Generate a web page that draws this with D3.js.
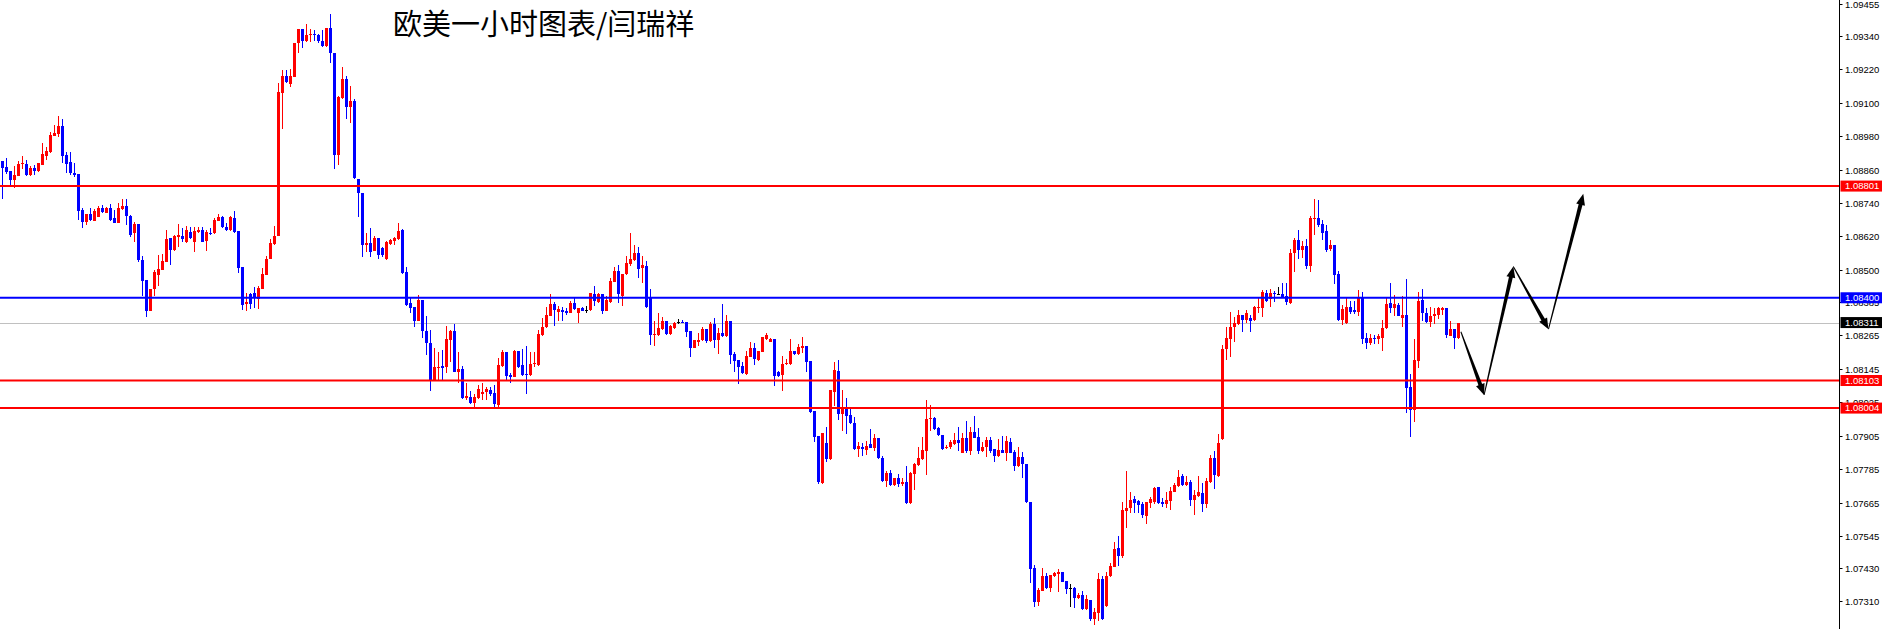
<!DOCTYPE html>
<html><head><meta charset="utf-8">
<script src="https://cdn.jsdelivr.net/npm/d3@7"></script>
<style>html,body{margin:0;padding:0;background:#fff;overflow:hidden}</style>
</head><body>
<svg id="chart" width="1882" height="629"></svg>
<script>
const title = "欧美一小时图表/闫瑞祥";
// EURUSD hourly candles, prices in points (price × 100000): [open, high, low, close]
const candles = [
[108891,108891,108755,108866],[108869,108902,108844,108852],[108855,108855,108805,108823],[108823,108873,108794,108841],
[108838,108891,108837,108880],[108879,108909,108862,108885],[108880,108895,108837,108841],[108841,108873,108837,108866],
[108866,108877,108841,108855],[108855,108884,108852,108884],[108877,108956,108877,108916],[108910,108942,108895,108928],
[108923,108996,108920,108984],[108982,109020,108981,108990],[108988,109053,108978,109017],[109017,109042,108885,108910],
[108913,108924,108848,108880],[108888,108924,108841,108847],[108849,108883,108832,108841],[108844,108844,108679,108712],
[108715,108723,108649,108673],[108673,108701,108661,108700],[108700,108721,108676,108679],[108677,108719,108676,108713],
[108691,108729,108690,108721],[108723,108733,108704,108709],[108705,108727,108704,108723],[108721,108737,108676,108679],
[108685,108715,108668,108670],[108670,108739,108668,108723],[108718,108755,108715,108729],[108729,108755,108661,108694],
[108695,108697,108618,108625],[108631,108673,108601,108665],[108665,108665,108528,108536],[108536,108550,108406,108461],
[108464,108464,108332,108354],[108354,108431,108353,108430],[108430,108500,108406,108493],[108482,108554,108443,108502],
[108500,108557,108500,108532],[108529,108643,108528,108611],[108616,108616,108518,108571],[108571,108625,108568,108622],
[108619,108665,108583,108625],[108622,108652,108600,108611],[108599,108658,108597,108643],[108637,108655,108611,108616],
[108599,108655,108565,108641],[108637,108655,108633,108643],[108643,108655,108600,108601],[108605,108643,108569,108637],
[108634,108649,108625,108631],[108631,108685,108629,108679],[108677,108701,108676,108691],[108691,108694,108650,108653],
[108653,108670,108641,108643],[108643,108694,108640,108691],[108685,108713,108634,108637],[108640,108640,108488,108508],
[108512,108512,108356,108374],[108378,108418,108353,108386],[108414,108418,108359,108378],[108418,108440,108362,108404],
[108396,108443,108359,108434],[108431,108506,108431,108485],[108482,108550,108482,108538],[108539,108610,108539,108598],
[108593,108658,108589,108622],[108623,109170,108622,109140],[109136,109218,109006,109196],[109196,109218,109171,109176],
[109167,109220,109156,109196],[109194,109316,109193,109314],[109314,109364,109280,109364],[109364,109364,109296,109323],
[109323,109382,109319,109343],[109342,109365,109317,109346],[109346,109361,109323,109342],[109343,109346,109316,109323],
[109322,109361,109302,109305],[109305,109370,109302,109370],[109370,109419,109244,109278],[109280,109280,108861,108913],
[108913,109124,108877,109122],[109116,109227,109114,109184],[109184,109196,109041,109086],[109086,109160,109026,109107],
[109107,109113,108826,108829],[108825,108825,108691,108777],[108777,108777,108545,108589],[108589,108634,108565,108598],
[108598,108649,108545,108565],[108569,108622,108568,108613],[108613,108613,108538,108554],[108578,108583,108547,108554],
[108538,108605,108536,108601],[108593,108610,108589,108607],[108605,108617,108589,108613],[108610,108670,108607,108640],
[108643,108646,108485,108490],[108494,108512,108370,108374],[108382,108398,108344,108362],[108368,108368,108296,108318],
[108318,108410,108315,108392],[108392,108392,108254,108282],[108282,108335,108195,108237],[108239,108284,108066,108105],
[108105,108219,108101,108150],[108149,108206,108105,108153],[108155,108212,108105,108149],[108150,108299,108131,108252],
[108248,108284,108170,108281],[108281,108306,108132,108135],[108135,108205,108093,108144],[108144,108155,108038,108041],
[108039,108093,108033,108047],[108045,108066,108020,108023],[108023,108055,108003,108045],[108039,108087,108037,108072],
[108053,108093,108033,108063],[108063,108079,108033,108072],[108069,108079,108047,108053],[108059,108086,108009,108019],
[108015,108183,108003,108159],[108155,108212,108151,108206],[108206,108206,108105,108120],[108123,108131,108093,108117],
[108117,108212,108116,108210],[108209,108209,108148,108150],[108159,108216,108119,108123],[108126,108227,108055,108125],
[108123,108206,108119,108161],[108161,108206,108153,108167],[108159,108284,108155,108270],[108266,108326,108263,108296],
[108294,108368,108291,108338],[108336,108414,108333,108378],[108378,108385,108299,108356],[108350,108370,108318,108359],
[108356,108366,108318,108350],[108354,108362,108338,108346],[108346,108389,108344,108382],[108382,108398,108356,108359],
[108346,108363,108311,108362],[108362,108366,108353,108354],[108356,108370,108346,108356],[108356,108416,108353,108416],
[108414,108443,108370,108389],[108386,108416,108383,108414],[108414,108414,108342,108354],[108354,108406,108351,108392],
[108386,108470,108383,108460],[108458,108512,108455,108496],[108496,108518,108382,108414],[108406,108485,108370,108485],
[108484,108550,108482,108524],[108521,108634,108514,108538],[108536,108589,108532,108562],[108562,108581,108470,108503],
[108508,108550,108454,108518],[108514,108532,108363,108366],[108402,108430,108230,108266],[108266,108318,108227,108270],
[108266,108344,108263,108293],[108287,108332,108284,108317],[108317,108317,108266,108270],[108270,108302,108266,108299],
[108290,108314,108288,108311],[108312,108323,108306,108312],[108314,108320,108309,108311],[108314,108314,108260,108278],
[108281,108281,108188,108221],[108221,108248,108218,108248],[108242,108272,108227,108248],[108248,108294,108245,108288],
[108287,108287,108237,108245],[108245,108314,108241,108306],[108306,108326,108219,108248],[108248,108290,108198,108275],
[108275,108378,108259,108263],[108263,108338,108259,108318],[108318,108318,108162,108195],[108198,108206,108135,108174],
[108177,108177,108090,108153],[108155,108170,108126,108129],[108126,108210,108123,108191],[108188,108242,108186,108219],
[108219,108239,108159,108179],[108177,108209,108173,108209],[108206,108258,108205,108258],[108252,108275,108248,108266],
[108242,108254,108241,108252],[108252,108252,108083,108119],[108135,108138,108116,108119],[108123,108191,108066,108162],
[108161,108179,108159,108167],[108162,108251,108159,108209],[108209,108209,108195,108198],[108198,108234,108195,108224],
[108221,108258,108203,108227],[108227,108227,108135,108170],[108173,108173,107987,107991],[107995,107995,107883,107901],
[107904,107904,107731,107740],[107736,107913,107731,107913],[107880,107935,107811,107820],[107820,108069,107818,108069],
[108063,108170,108011,108141],[108137,108177,107961,107983],[107983,108069,107923,108000],[108000,108039,107911,107976],
[107979,108009,107947,107949],[107949,107971,107853,107857],[107857,107883,107829,107868],[107865,107878,107833,107857],
[107853,107886,107834,107868],[107875,107929,107859,107862],[107862,107911,107850,107895],[107895,107895,107821,107826],
[107826,107832,107740,107743],[107743,107779,107722,107772],[107770,107782,107724,107728],[107728,107752,107724,107752],
[107752,107766,107722,107731],[107731,107752,107724,107740],[107740,107796,107660,107662],[107662,107776,107660,107772],
[107767,107808,107710,107803],[107800,107865,107796,107824],[107820,107901,107818,107853],[107850,108033,107764,107964],
[107964,108015,107923,107967],[107967,107973,107925,107928],[107934,107937,107904,107907],[107907,107907,107853,107856],
[107860,107871,107857,107865],[107865,107889,107856,107883],[107875,107916,107871,107889],[107889,107935,107851,107880],
[107844,107916,107841,107898],[107898,107958,107843,107850],[107850,107937,107836,107919],[107919,107976,107895,107898],
[107901,107931,107839,107850],[107850,107883,107846,107865],[107863,107901,107829,107889],[107889,107901,107843,107850],
[107856,107857,107811,107833],[107833,107892,107830,107853],[107853,107904,107843,107844],[107844,107904,107815,107886],
[107883,107898,107843,107844],[107847,107853,107779,107796],[107796,107865,107792,107829],[107829,107847,107752,107803],
[107803,107803,107665,107668],[107668,107668,107377,107425],[107429,107441,107291,107309],[107309,107357,107293,107351],
[107348,107429,107346,107401],[107401,107413,107353,107357],[107357,107405,107345,107405],[107401,107417,107398,107413],
[107408,107425,107345,107417],[107417,107417,107378,107381],[107384,107384,107337,107354],[107357,107372,107291,107357],
[107357,107363,107285,107321],[107321,107339,107319,107333],[107333,107347,107279,107282],[107282,107333,107279,107318],
[107315,107315,107241,107246],[107246,107285,107225,107273],[107269,107413,107241,107390],[107390,107401,107243,107246],
[107293,107417,107291,107401],[107401,107447,107398,107437],[107435,107524,107432,107497],[107501,107545,107437,107473],
[107473,107667,107465,107638],[107636,107778,107575,107644],[107644,107704,107626,107674],[107677,107688,107628,107664],
[107670,107674,107628,107656],[107660,107668,107608,107620],[107618,107666,107587,107666],[107662,107684,107644,107678],
[107666,107722,107660,107718],[107720,107720,107660,107662],[107668,107680,107648,107660],[107660,107704,107644,107674],
[107670,107722,107638,107706],[107704,107736,107701,107728],[107724,107782,107720,107758],[107760,107767,107724,107728],
[107728,107760,107724,107738],[107738,107746,107652,107674],[107674,107710,107620,107692],[107688,107760,107685,107702],
[107698,107734,107632,107660],[107660,107752,107646,107742],[107738,107836,107735,107826],[107826,107850,107713,107764],
[107761,107911,107758,107880],[107893,108230,107889,108216],[108216,108296,108177,108257],[108252,108350,108188,108296],
[108294,108332,108242,108311],[108305,108356,108302,108338],[108338,108338,108278,108320],[108320,108356,108308,108346],
[108328,108338,108278,108318],[108320,108370,108317,108366],[108364,108398,108346,108368],[108364,108428,108332,108422],
[108416,108428,108386,108389],[108395,108431,108368,108416],[108418,108424,108386,108414],[108414,108440,108410,108414],
[108414,108452,108398,108402],[108406,108454,108374,108386],[108380,108574,108378,108562],[108560,108616,108494,108607],
[108607,108643,108539,108571],[108571,108605,108544,108586],[108586,108610,108503,108514],[108514,108694,108494,108687],
[108684,108755,108625,108687],[108687,108751,108653,108661],[108665,108679,108607,108634],[108640,108661,108564,108571],
[108574,108607,108568,108589],[108589,108589,108449,108482],[108485,108496,108318,108320],[108320,108374,108302,108360],
[108308,108398,108306,108368],[108368,108388,108342,108350],[108356,108388,108342,108350],[108350,108428,108335,108398],
[108398,108422,108234,108252],[108257,108272,108216,108239],[108239,108270,108230,108254],[108257,108266,108234,108251],
[108251,108270,108234,108264],[108257,108320,108210,108290],[108290,108398,108288,108378],[108382,108452,108346,108362],
[108362,108410,108336,108378],[108374,108380,108333,108336],[108328,108406,108294,108338],[108338,108467,107987,108077],
[108081,108126,107899,107997],[107997,108251,107955,108177],[108174,108422,108147,108388],[108392,108430,108318,108344],
[108346,108362,108311,108314],[108314,108366,108294,108335],[108335,108362,108306,108342],[108338,108366,108323,108362],
[108356,108366,108338,108362],[108362,108362,108257,108266],[108264,108317,108261,108287],[108287,108287,108216,108254],
[108254,108311,108252,108311]
];
const tickPrices = [1.09455,1.09340,1.09220,1.09100,1.08980,1.08860,1.08740,1.08620,1.08500,1.08385,
                    1.08265,1.08145,1.08025,1.07905,1.07785,1.07665,1.07545,1.07430,1.07310];
const levelPrices = [1.08801, 1.08400, 1.08103, 1.08004];
const bidPrice = 1.08311;
// projected path (bar index into the future, price)
const arrowIndex = [364.6, 370.4, 377.7, 386.5, 395.2];
const arrowPrice = [1.08278, 1.08051, 1.08512, 1.08287, 1.08773];

// ---- styles / layout ----
const W = 1882, H = 629, axisX = 1839.5;
const levelColors = ["#ff0000", "#0000ff", "#ff0000", "#ff0000"];
const UP = "#ff0000", DOWN = "#0000ff", FLAT = "#000000";

const svg = d3.select("#chart");
const x = d3.scaleLinear().domain([0, candles.length - 1]).range([2.5, 2.5 + 4 * (candles.length - 1)]);
const y = d3.scaleLinear().domain([1.072109, 1.09469]).range([H, 0]);

const data = candles.map((d, i) => ({i, o: d[0] / 1e5, h: d[1] / 1e5, l: d[2] / 1e5, c: d[3] / 1e5}));
const col = d => d.c > d.o ? UP : (d.c < d.o ? DOWN : FLAT);

svg.append("rect").attr("width", W).attr("height", H).attr("fill", "#fff");

const plot = svg.append("g");
plot.append("clipPath").attr("id", "clip").append("rect").attr("width", axisX).attr("height", H);
const pg = plot.append("g").attr("clip-path", "url(#clip)");

// bid line (behind candles)
pg.append("line").attr("x1", 0).attr("x2", axisX).attr("y1", Math.round(y(bidPrice)) + 0.5).attr("y2", Math.round(y(bidPrice)) + 0.5)
  .attr("stroke", "#c0c0c0").attr("stroke-width", 1);

// wicks
pg.append("g").selectAll("line").data(data).join("line")
  .attr("x1", d => x(d.i)).attr("x2", d => x(d.i))
  .attr("y1", d => y(d.h)).attr("y2", d => y(d.l))
  .attr("stroke", col).attr("stroke-width", 1).attr("shape-rendering", "crispEdges");
// bodies
pg.append("g").selectAll("rect").data(data).join("rect")
  .attr("x", d => x(d.i) - 1.5).attr("width", 3)
  .attr("y", d => y(Math.max(d.o, d.c)))
  .attr("height", d => Math.max(1, Math.abs(y(d.o) - y(d.c))))
  .attr("fill", col).attr("shape-rendering", "crispEdges");

// horizontal levels
pg.append("g").selectAll("line").data(levelPrices).join("line")
  .attr("x1", 0).attr("x2", axisX)
  .attr("y1", d => y(d)).attr("y2", d => y(d))
  .attr("stroke", (d, i) => levelColors[i]).attr("stroke-width", 2);

// arrows (tapered segments with heads)
const pts = arrowIndex.map((v, i) => [x(v), y(arrowPrice[i])]);
const ag = pg.append("g").attr("fill", "#000");
for (let k = 0; k < pts.length - 1; k++) {
  const [ax, ay] = pts[k], [bx, by] = pts[k + 1];
  const len = Math.hypot(bx - ax, by - ay), ux = (bx - ax) / len, uy = (by - ay) / len;
  const nx = -uy, ny = ux, hl = 11, hw = 4.5;
  const sx = bx - ux * hl * 0.8, sy = by - uy * hl * 0.8;
  const hx = bx - ux * hl, hy = by - uy * hl;
  ag.append("polygon").attr("points", [
    [ax + nx * 0.5, ay + ny * 0.5], [sx + nx * 2, sy + ny * 2],
    [sx - nx * 2, sy - ny * 2], [ax - nx * 0.5, ay - ny * 0.5]].map(p => p.join(",")).join(" "));
  ag.append("polygon").attr("points", [
    [bx, by], [hx + nx * hw, hy + ny * hw], [hx - nx * hw, hy - ny * hw]].map(p => p.join(",")).join(" "));
}

// title
svg.append("text").attr("x", 393).attr("y", 35).text(title)
  .attr("font-family", "'Noto Sans CJK SC', sans-serif").attr("font-size", 29).attr("fill", "#000");

// right price axis
const ax = svg.append("g").attr("font-family", "'Liberation Sans', Arial, sans-serif").attr("font-size", 9.5);
ax.append("line").attr("x1", axisX).attr("x2", axisX).attr("y1", 0).attr("y2", H)
  .attr("stroke", "#000").attr("stroke-width", 1);
const tk = ax.append("g").selectAll("g").data(tickPrices).join("g")
  .attr("transform", d => `translate(0,${Math.round(y(d)) + 0.5})`);
tk.append("line").attr("x1", axisX).attr("x2", axisX + 3).attr("stroke", "#000");
tk.append("text").attr("x", 1845).attr("dy", "0.35em").attr("fill", "#000").text(d => d.toFixed(5));

// price tags (drawn over the tick labels, as in the terminal)
const tags = levelPrices.map((p, i) => ({p, c: levelColors[i]})).concat([{p: bidPrice, c: "#000"}]);
const tg = ax.append("g").selectAll("g").data(tags).join("g")
  .attr("transform", d => `translate(0,${y(d.p)})`);
tg.append("rect").attr("x", axisX + 1).attr("y", -5.5).attr("width", W - axisX - 1).attr("height", 11).attr("fill", d => d.c);
tg.append("text").attr("x", 1845).attr("dy", "0.35em").attr("fill", "#fff").text(d => d.p.toFixed(5));
</script>
</body></html>
